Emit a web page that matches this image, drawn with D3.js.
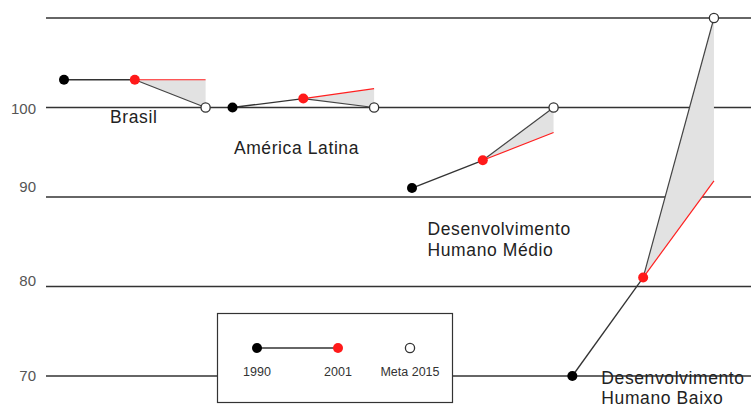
<!DOCTYPE html>
<html><head><meta charset="utf-8">
<script src="https://cdn.jsdelivr.net/npm/d3@7"></script>
<style>body{margin:0;background:#fff}svg{display:block}text{font-family:"Liberation Sans",Arial,sans-serif}</style>
</head><body><svg id="c" width="751" height="410"></svg>
<script>
// ---- data ----
const groups = ["Brasil", "América Latina", "Desenvolvimento Humano Médio", "Desenvolvimento Humano Baixo"];
const labelLines = [["Brasil"], ["América Latina"], ["Desenvolvimento", "Humano Médio"], ["Desenvolvimento", "Humano Baixo"]];
const v1990 = [103.1, 100.0, 91.0, 70.0];
const v2001 = [103.1, 101.0, 94.1, 81.0];
const meta2015 = [100.0, 100.0, 100.0, 110.0];
const trend2015 = [103.1, 102.1, 97.2, 91.8];
const yTicks = [70, 80, 90, 100, 110];
const yTickLabels = ["70", "80", "90", "100", ""];
const legendLabels = ["1990", "2001", "Meta 2015"];

// ---- layout ----
const groupOffset = [0, 2.38, 4.915, 7.18];
const tickLabelShift = [0, -6, -10, 1, 0];
const labelPos = [{dx: 0.65, v: 98.3, lh: 21}, {dx: 0.02, v: 94.8, lh: 21}, {dx: 0.22, v: 85.8, lh: 21}, {dx: 0.41, v: 69.1, lh: 19.5}];
const svg = d3.select("#c");
const x = d3.scaleLinear().domain([0, 9.5]).range([64, 64 + 9.5 * 70.8]);
const y = d3.scaleLinear().domain([70, 110]).range([376, 18]);

// gridlines + tick labels
const g = svg.append("g");
yTicks.forEach((t, i) => {
  g.append("line").attr("x1", 46).attr("x2", 751).attr("y1", y(t)).attr("y2", y(t))
    .attr("stroke", "#333").attr("stroke-width", 1.3);
  if (yTickLabels[i]) g.append("text").attr("x", 36).attr("y", y(t) + tickLabelShift[i]).attr("dy", "0.35em")
    .attr("text-anchor", "end").attr("font-size", 15).attr("fill", "#555").text(yTickLabels[i]);
});

const data = groups.map((name, i) => ({
  name, i,
  p0: [x(groupOffset[i]), y(v1990[i])],
  p1: [x(groupOffset[i] + 1), y(v2001[i])],
  p2: [x(groupOffset[i] + 2), y(meta2015[i])],
  pt: [x(groupOffset[i] + 2), y(trend2015[i])]
}));

// shaded gap
svg.append("g").selectAll("path").data(data).join("path")
  .attr("d", d => d3.line()([d.p1, d.pt, d.p2]) + "Z")
  .attr("fill", "#e2e2e2");
// red trend
svg.append("g").selectAll("line").data(data).join("line")
  .attr("x1", d => d.p1[0]).attr("y1", d => d.p1[1]).attr("x2", d => d.pt[0]).attr("y2", d => d.pt[1])
  .attr("stroke", "#ff2020").attr("stroke-width", 1.2);
// 2001 -> meta
svg.append("g").selectAll("line").data(data).join("line")
  .attr("x1", d => d.p1[0]).attr("y1", d => d.p1[1]).attr("x2", d => d.p2[0]).attr("y2", d => d.p2[1])
  .attr("stroke", "#444").attr("stroke-width", 1.2);
// 1990 -> 2001
svg.append("g").selectAll("line").data(data).join("line")
  .attr("x1", d => d.p0[0]).attr("y1", d => d.p0[1]).attr("x2", d => d.p1[0]).attr("y2", d => d.p1[1])
  .attr("stroke", "#333").attr("stroke-width", 1.3);
// dots
const dots = svg.append("g");
data.forEach(d => {
  dots.append("circle").attr("cx", d.p0[0]).attr("cy", d.p0[1]).attr("r", 5).attr("fill", "#000");
  dots.append("circle").attr("cx", d.p1[0]).attr("cy", d.p1[1]).attr("r", 5).attr("fill", "#ff1a1a");
  dots.append("circle").attr("cx", d.p2[0]).attr("cy", d.p2[1]).attr("r", 4.6).attr("fill", "#fff")
    .attr("stroke", "#333").attr("stroke-width", 1.3);
});
// group labels
data.forEach((d, i) => {
  const lx = x(groupOffset[i] + labelPos[i].dx);
  const t = svg.append("text").attr("x", lx).attr("y", y(labelPos[i].v))
    .attr("font-size", 17.5).attr("fill", "#222").attr("letter-spacing", 0.6);
  labelLines[i].forEach((ln, k) => t.append("tspan").attr("x", lx)
    .attr("dy", k ? labelPos[i].lh : 0).text(ln));
});

// legend
const lg = svg.append("g");
lg.append("rect").attr("x", 217.5).attr("y", 313.5).attr("width", 235).attr("height", 89)
  .attr("fill", "#fff").attr("stroke", "#333").attr("stroke-width", 1.2);
const lx = [257, 338, 410];
lg.append("line").attr("x1", lx[0]).attr("x2", lx[1]).attr("y1", 348).attr("y2", 348)
  .attr("stroke", "#333").attr("stroke-width", 1.3);
lg.append("circle").attr("cx", lx[0]).attr("cy", 348).attr("r", 5).attr("fill", "#000");
lg.append("circle").attr("cx", lx[1]).attr("cy", 348).attr("r", 5).attr("fill", "#ff1a1a");
lg.append("circle").attr("cx", lx[2]).attr("cy", 348).attr("r", 4.6).attr("fill", "#fff")
  .attr("stroke", "#333").attr("stroke-width", 1.3);
legendLabels.forEach((l, i) => lg.append("text").attr("x", lx[i]).attr("y", 376)
  .attr("text-anchor", "middle").attr("font-size", 12.5).attr("fill", "#333").text(l));
</script></body></html>
